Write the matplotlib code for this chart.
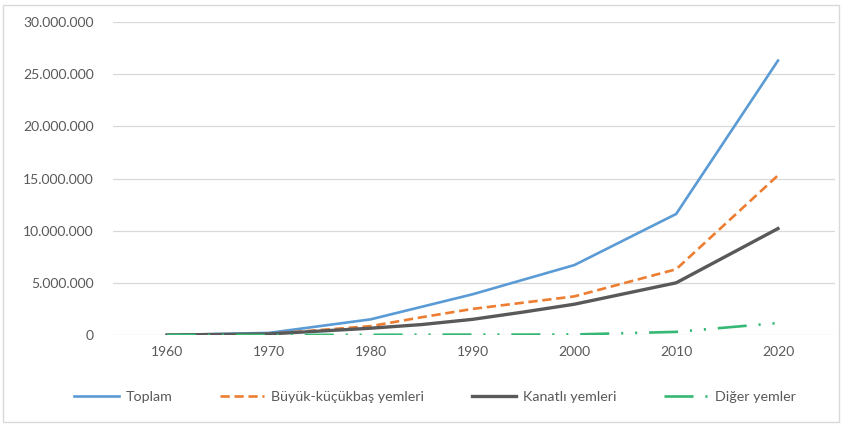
import matplotlib
matplotlib.use("Agg")
import matplotlib.pyplot as plt
from matplotlib.ticker import FuncFormatter, MultipleLocator
from matplotlib.patches import Rectangle

# values (tons)
years = [1960, 1970, 1980, 1985, 1990, 1995, 2000, 2010, 2020]
toplam = [0, 200_000, 1_500_000, 2_700_000, 3_900_000, 5_300_000, 6_700_000, 11_600_000, 26_300_000]
buyuk_kucukbas = [0, 100_000, 850_000, 1_700_000, 2_500_000, 3_100_000, 3_700_000, 6_300_000, 15_300_000]
kanatli = [0, 100_000, 650_000, 1_000_000, 1_500_000, 2_200_000, 2_950_000, 5_000_000, 10_200_000]
diger = [0, 0, 20_000, 30_000, 40_000, 40_000, 50_000, 300_000, 1_150_000]

series_names = ["Toplam", "Büyük-küçükbaş yemleri", "Kanatlı yemleri", "Diğer yemler"]
x_ticks = [1960, 1970, 1980, 1990, 2000, 2010, 2020]

plt.rcParams['font.family'] = ['Lato', 'DejaVu Sans']

fig = plt.figure(figsize=(8.42, 4.25), dpi=100)
ax = fig.add_axes([113 / 842, 1 - 335 / 425, (835 - 113) / 842, (335 - 22) / 425])

ax.plot(years, toplam, color="#5B9BD5", lw=1.9, label=series_names[0])
ax.plot(years, buyuk_kucukbas, color="#ED7D31", lw=1.9, ls=(0, (3.5, 1.8)), label=series_names[1])
ax.plot(years, kanatli, color="#595959", lw=2.4, label=series_names[2])
ax.plot(years, diger, color="#34B873", lw=1.9, ls=(0, (11, 4.5, 0.8, 4.5, 0.8, 4.5)), label=series_names[3])

ax.set_xlim(1954.7, 2025.6)
ax.set_ylim(0, 30_000_000)
ax.set_xticks(x_ticks)
ax.yaxis.set_major_locator(MultipleLocator(5_000_000))
ax.yaxis.set_major_formatter(FuncFormatter(lambda v, p: f"{int(v):,}".replace(",", ".")))
ax.grid(axis="y", color="#D9D9D9", lw=0.9)
ax.set_axisbelow(True)
for s in ax.spines.values():
    s.set_visible(False)
ax.tick_params(length=0, labelsize=10, labelcolor="#595959", pad=8)
ax.tick_params(axis="y", pad=14)

fig.legend(loc="center", bbox_to_anchor=(0.517, 1 - 397 / 425), ncol=4, frameon=False,
           fontsize=10.3, labelcolor="#595959", handlelength=3.1, columnspacing=3.3, handletextpad=0.5)

fig.patches.append(Rectangle((3 / 842, 3 / 425), 1 - 6 / 842, 1 - 8 / 425, transform=fig.transFigure,
                             fill=False, edgecolor="#D9D9D9", lw=1))

fig.savefig("out.png", dpi=100)
